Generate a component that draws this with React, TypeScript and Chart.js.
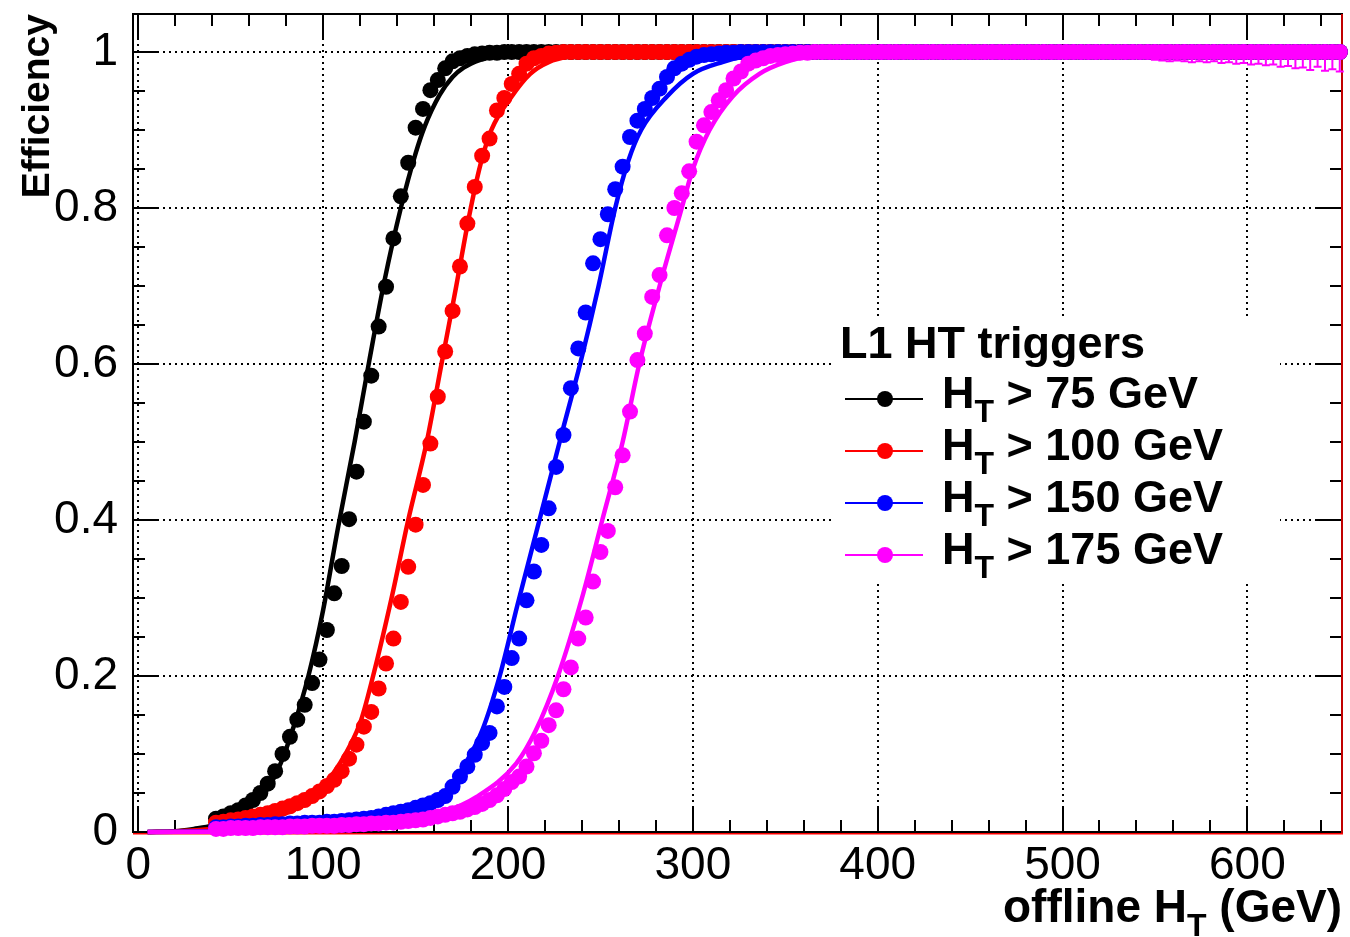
import React, { useEffect, useRef } from "react";
import { Chart, registerables } from "chart.js";

Chart.register(...registerables);

const FONT = "'Liberation Sans', Arial, Helvetica, sans-serif";

// ---- categories: offline HT bin centres (GeV) ----
const HT_BINS = [
  42, 46, 50, 54, 58, 62, 66, 70, 74, 78,
  82, 86, 90, 94, 98, 102, 106, 110, 114, 118,
  122, 126, 130, 134, 138, 142, 146, 150, 154, 158,
  162, 166, 170, 174, 178, 182, 186, 190, 194, 198,
  202, 206, 210, 214, 218, 222, 226, 230, 234, 238,
  242, 246, 250, 254, 258, 262, 266, 270, 274, 278,
  282, 286, 290, 294, 298, 302, 306, 310, 314, 318,
  322, 326, 330, 334, 338, 342, 346, 350, 354, 358,
  362, 366, 370, 374, 378, 382, 386, 390, 394, 398,
  402, 406, 410, 414, 418, 422, 426, 430, 434, 438,
  442, 446, 450, 454, 458, 462, 466, 470, 474, 478,
  482, 486, 490, 494, 498, 502, 506, 510, 514, 518,
  522, 526, 530, 534, 538, 542, 546, 550, 554, 558,
  562, 566, 570, 574, 578, 582, 586, 590, 594, 598,
  602, 606, 610, 614, 618, 622, 626, 630, 634, 638,
  642, 646, 650,
];

// ---- measured efficiencies ----
const EFF_HT75 = [
  0.017, 0.020, 0.024, 0.028, 0.034, 0.041, 0.050, 0.062, 0.078, 0.100,
  0.122, 0.144, 0.163, 0.191, 0.221, 0.259, 0.306, 0.341, 0.401, 0.462,
  0.526, 0.585, 0.648, 0.699, 0.761, 0.815, 0.858, 0.903, 0.927, 0.951,
  0.964, 0.979, 0.988, 0.992, 0.995, 0.997, 0.998, 0.999, 0.999, 1,
  1, 1, 1, 1, 1, 1, 1, 1, 1, 1,
  1, 1, 1, 1, 1, 1, 1, 1, 1, 1,
  1, 1, 1, 1, 1, 1, 1, 1, 1, 1,
  1, 1, 1, 1, 1, 1, 1, 1, 1, 1,
  1, 1, 1, 1, 1, 1, 1, 1, 1, 1,
  1, 1, 1, 1, 1, 1, 1, 1, 1, 1,
  1, 1, 1, 1, 1, 1, 1, 1, 1, 1,
  1, 1, 1, 1, 1, 1, 1, 1, 1, 1,
  1, 1, 1, 1, 1, 1, 1, 1, 1, 1,
  1, 1, 1, 1, 1, 1, 1, 1, 1, 1,
  1, 1, 1, 1, 1, 1, 1, 1, 1, 1,
  1, 1, 1,
];

const EFF_HT100 = [
  0.012, 0.013, 0.015, 0.016, 0.018, 0.020, 0.022, 0.024, 0.027, 0.030,
  0.033, 0.037, 0.041, 0.046, 0.052, 0.059, 0.067, 0.078, 0.094, 0.112,
  0.135, 0.154, 0.184, 0.216, 0.248, 0.295, 0.340, 0.394, 0.445, 0.498,
  0.558, 0.616, 0.668, 0.725, 0.780, 0.827, 0.867, 0.889, 0.925, 0.941,
  0.959, 0.972, 0.985, 0.992, 0.995, 0.998, 0.999, 1, 1, 1,
  1, 1, 1, 1, 1, 1, 1, 1, 1, 1,
  1, 1, 1, 1, 1, 1, 1, 1, 1, 1,
  1, 1, 1, 1, 1, 1, 1, 1, 1, 1,
  1, 1, 1, 1, 1, 1, 1, 1, 1, 1,
  1, 1, 1, 1, 1, 1, 1, 1, 1, 1,
  1, 1, 1, 1, 1, 1, 1, 1, 1, 1,
  1, 1, 1, 1, 1, 1, 1, 1, 1, 1,
  1, 1, 1, 1, 1, 1, 1, 1, 1, 1,
  1, 1, 1, 1, 1, 1, 1, 1, 1, 1,
  1, 1, 1, 1, 1, 1, 1, 1, 1, 1,
  1, 1, 1,
];

const EFF_HT150 = [
  0.006, 0.006, 0.007, 0.007, 0.008, 0.008, 0.009, 0.009, 0.010, 0.010,
  0.011, 0.011, 0.012, 0.012, 0.012, 0.013, 0.013, 0.014, 0.015, 0.016,
  0.017, 0.018, 0.020, 0.022, 0.024, 0.026, 0.028, 0.031, 0.034, 0.037,
  0.041, 0.046, 0.058, 0.071, 0.084, 0.099, 0.114, 0.127, 0.161, 0.186,
  0.223, 0.248, 0.297, 0.334, 0.368, 0.415, 0.468, 0.509, 0.569, 0.620,
  0.666, 0.729, 0.760, 0.792, 0.824, 0.853, 0.891, 0.912, 0.927, 0.941,
  0.953, 0.968, 0.979, 0.985, 0.990, 0.994, 0.996, 0.997, 0.998, 0.999,
  0.999, 1, 1, 1, 1, 1, 1, 1, 1, 1,
  1, 1, 1, 1, 1, 1, 1, 1, 1, 1,
  1, 1, 1, 1, 1, 1, 1, 1, 1, 1,
  1, 1, 1, 1, 1, 1, 1, 1, 1, 1,
  1, 1, 1, 1, 1, 1, 1, 1, 1, 1,
  1, 1, 1, 1, 1, 1, 1, 1, 1, 1,
  1, 1, 1, 1, 1, 1, 1, 1, 1, 1,
  1, 1, 1, 1, 1, 1, 1, 1, 1, 1,
  1, 1, 1,
];

const EFF_HT175 = [
  0.004, 0.004, 0.005, 0.005, 0.005, 0.005, 0.006, 0.006, 0.006, 0.006,
  0.007, 0.007, 0.007, 0.008, 0.008, 0.008, 0.008, 0.009, 0.009, 0.010,
  0.010, 0.011, 0.011, 0.012, 0.012, 0.013, 0.014, 0.015, 0.016, 0.018,
  0.020, 0.022, 0.024, 0.026, 0.029, 0.032, 0.036, 0.041, 0.047, 0.055,
  0.064, 0.071, 0.084, 0.101, 0.117, 0.137, 0.156, 0.183, 0.211, 0.248,
  0.275, 0.321, 0.359, 0.386, 0.442, 0.483, 0.539, 0.605, 0.639, 0.686,
  0.714, 0.765, 0.800, 0.819, 0.847, 0.885, 0.906, 0.923, 0.938, 0.951,
  0.966, 0.975, 0.985, 0.989, 0.992, 0.995, 0.996, 0.997, 0.998, 0.999,
  0.999, 1, 1, 1, 1, 1, 1, 1, 1, 1,
  1, 1, 1, 1, 1, 1, 1, 1, 1, 1,
  1, 1, 1, 1, 1, 1, 1, 1, 1, 1,
  1, 1, 1, 1, 1, 1, 1, 1, 1, 1,
  1, 1, 1, 1, 1, 1, 1, 1, 1, 1,
  1, 1, 1, 1, 1, 1, 1, 1, 1, 1,
  1, 1, 1, 1, 1, 1, 1, 1, 1, 1,
  1, 1, 1,
];

// lower error bars visible on the HT>175 series at high HT
const ERR_HT175_BINS = [
  550, 554, 558, 562, 566, 570, 574, 578, 582, 586, 590, 594, 598,
  602, 606, 610, 614, 618, 622, 626, 630, 634, 638, 642, 646, 650,
];
const ERR_HT175_LOW = [
  0.010, 0.011, 0.012, 0.011, 0.012, 0.013, 0.012, 0.013, 0.012, 0.014, 0.013, 0.015, 0.014,
  0.016, 0.015, 0.017, 0.016, 0.019, 0.018, 0.021, 0.020, 0.023, 0.019, 0.024, 0.022, 0.025,
];

// ---- fitted turn-on curves ----
const FIT75_X = [5, 20, 30, 40, 50, 60, 70, 77, 84, 92, 100, 108, 117, 125, 133, 142, 150, 155, 163, 170, 176, 185, 195, 210, 230, 650];
const FIT75_Y = [0, 0.001, 0.004, 0.008, 0.016, 0.031, 0.056, 0.088, 0.135, 0.2, 0.285, 0.39, 0.5, 0.605, 0.705, 0.8, 0.87, 0.905, 0.945, 0.968, 0.98, 0.99, 0.996, 0.999, 1, 1];
const FIT100_X = [5, 20, 40, 60, 73, 93, 109, 120, 127, 137, 146, 156, 164, 172, 179, 185, 191, 202, 212, 222, 235, 250, 270, 650];
const FIT100_Y = [0, 0.001, 0.004, 0.01, 0.018, 0.042, 0.088, 0.14, 0.2, 0.3, 0.4, 0.5, 0.6, 0.7, 0.79, 0.855, 0.9, 0.943, 0.972, 0.987, 0.995, 0.999, 1, 1];
const FIT150_X = [5, 100, 130, 150, 165, 177, 186, 195.5, 205, 217, 229, 239, 249, 258, 265, 272, 286, 300, 316, 330, 350, 380, 650];
const FIT150_Y = [0, 0.004, 0.012, 0.026, 0.045, 0.088, 0.13, 0.2, 0.29, 0.4, 0.51, 0.6, 0.7, 0.8, 0.86, 0.9, 0.943, 0.972, 0.987, 0.995, 0.999, 1, 1];
const FIT175_X = [5, 100, 140, 163, 183, 204.5, 215, 227, 240, 251, 262, 271, 282, 294, 300, 309, 321.5, 336, 350, 365, 390, 650];
const FIT175_Y = [0, 0.002, 0.008, 0.023, 0.045, 0.088, 0.13, 0.2, 0.3, 0.4, 0.5, 0.6, 0.7, 0.8, 0.85, 0.9, 0.943, 0.972, 0.987, 0.995, 1, 1];

// ---- series meta ----
const SERIES_THRESHOLDS = ["75 GeV", "100 GeV", "150 GeV", "175 GeV"];
const SERIES_COLORS = ["#000000", "#ff0000", "#0000ff", "#ff00ff"];
const LEGEND_TITLE = "L1 HT triggers";

// ---- axes ----
const X_TICKS = [0, 100, 200, 300, 400, 500, 600];
const Y_TICKS = [0, 0.2, 0.4, 0.6, 0.8, 1];
const Y_TICK_LABELS = ["0", "0.2", "0.4", "0.6", "0.8", "1"];
const X_MIN = -2.9;
const X_MAX = 651.2;
const Y_MIN = 0;
const Y_MAX = 1.0487;

function drawParts(
  ctx: CanvasRenderingContext2D,
  parts: { t: string; size: number; dy: number }[],
  x: number,
  y: number,
  align: "left" | "right"
) {
  let total = 0;
  for (const p of parts) {
    ctx.font = `bold ${p.size}px ${FONT}`;
    total += ctx.measureText(p.t).width;
  }
  let cx = align === "left" ? x : x - total;
  ctx.textAlign = "left";
  ctx.textBaseline = "alphabetic";
  for (const p of parts) {
    ctx.font = `bold ${p.size}px ${FONT}`;
    ctx.fillText(p.t, cx, y + p.dy);
    cx += ctx.measureText(p.t).width;
  }
}

const rootStyle = {
  id: "rootStyle",
  beforeDatasetsDraw(chart: any) {
    const { ctx, chartArea: a, scales } = chart;
    const xs = scales.x;
    const ys = scales.y;
    ctx.save();
    // dotted grid
    ctx.strokeStyle = "#000";
    ctx.lineWidth = 2;
    ctx.setLineDash([2, 4]);
    for (const v of X_TICKS) {
      const px = Math.round(xs.getPixelForValue(v));
      ctx.beginPath();
      ctx.moveTo(px, a.top);
      ctx.lineTo(px, a.bottom);
      ctx.stroke();
    }
    for (const v of Y_TICKS) {
      if (v === 0) continue;
      const py = Math.round(ys.getPixelForValue(v));
      ctx.beginPath();
      ctx.moveTo(a.left, py);
      ctx.lineTo(a.right, py);
      ctx.stroke();
    }
    ctx.setLineDash([]);
    // tick marks (inside, all four sides)
    ctx.lineWidth = 2;
    for (let v = 0; v <= X_MAX; v += 20) {
      const major = v % 100 === 0;
      const len = major ? 25 : 12;
      const px = Math.round(xs.getPixelForValue(v));
      ctx.beginPath();
      ctx.moveTo(px, a.bottom);
      ctx.lineTo(px, a.bottom - len);
      ctx.moveTo(px, a.top);
      ctx.lineTo(px, a.top + len);
      ctx.stroke();
    }
    for (let i = 0; i * 0.05 <= Y_MAX; i++) {
      const v = i * 0.05;
      const major = i % 4 === 0;
      const len = major ? 25 : 12;
      const py = Math.round(ys.getPixelForValue(v));
      ctx.beginPath();
      ctx.moveTo(a.left, py);
      ctx.lineTo(a.left + len, py);
      ctx.moveTo(a.right, py);
      ctx.lineTo(a.right - len, py);
      ctx.stroke();
    }
    // frame
    ctx.lineWidth = 2;
    ctx.strokeStyle = "#000";
    ctx.strokeRect(a.left, a.top, a.right - a.left, a.bottom - a.top);
    ctx.strokeStyle = "#ff0000";
    ctx.lineWidth = 1.5;
    ctx.beginPath();
    ctx.moveTo(a.left, a.bottom + 1.8);
    ctx.lineTo(a.right + 1, a.bottom + 1.8);
    ctx.moveTo(a.right, a.top);
    ctx.lineTo(a.right, a.bottom + 1.8);
    ctx.stroke();
    ctx.restore();
  },
  afterDatasetsDraw(chart: any) {
    const { ctx, chartArea: a, scales } = chart;
    const xs = scales.x;
    const ys = scales.y;
    ctx.save();
    // error bars on the HT>175 points
    ctx.strokeStyle = SERIES_COLORS[3];
    ctx.lineWidth = 2;
    ERR_HT175_BINS.forEach((b, i) => {
      const idx = HT_BINS.indexOf(b);
      const val = idx >= 0 ? EFF_HT175[idx] : 1;
      const px = xs.getPixelForValue(b);
      const py = ys.getPixelForValue(val);
      const pl = ys.getPixelForValue(val - ERR_HT175_LOW[i]);
      ctx.beginPath();
      ctx.moveTo(px, py);
      ctx.lineTo(px, pl);
      ctx.moveTo(px - 4, pl);
      ctx.lineTo(px + 4, pl);
      ctx.stroke();
    });

    // legend
    ctx.fillStyle = "#fff";
    ctx.fillRect(832, 318, 448, 262);
    ctx.fillStyle = "#000";
    ctx.font = `bold 45px ${FONT}`;
    ctx.textAlign = "left";
    ctx.textBaseline = "alphabetic";
    ctx.fillText(LEGEND_TITLE, 840, 358);
    SERIES_THRESHOLDS.forEach((thr, i) => {
      const yc = 399 + 52 * i;
      const col = SERIES_COLORS[i];
      ctx.strokeStyle = col;
      ctx.lineWidth = 2;
      ctx.beginPath();
      ctx.moveTo(845, yc);
      ctx.lineTo(923, yc);
      ctx.stroke();
      ctx.fillStyle = col;
      ctx.beginPath();
      ctx.arc(885, yc, 8, 0, Math.PI * 2);
      ctx.fill();
      ctx.fillStyle = "#000";
      drawParts(
        ctx,
        [
          { t: "H", size: 45, dy: 0 },
          { t: "T", size: 32, dy: 14 },
          { t: " > " + thr, size: 45, dy: 0 },
        ],
        942,
        yc + 9,
        "left"
      );
    });

    // axis titles
    ctx.fillStyle = "#000";
    drawParts(
      ctx,
      [
        { t: "offline H", size: 46, dy: 0 },
        { t: "T", size: 32, dy: 14 },
        { t: " (GeV)", size: 46, dy: 0 },
      ],
      1342,
      922,
      "right"
    );
    ctx.save();
    ctx.translate(49, a.top);
    ctx.rotate(-Math.PI / 2);
    ctx.font = `bold 39px ${FONT}`;
    ctx.textAlign = "right";
    ctx.textBaseline = "alphabetic";
    ctx.fillText("Efficiency", 0, 0);
    ctx.restore();
    ctx.restore();
  },
};

function pointsDataset(vals: number[], color: string, order: number) {
  return {
    type: "line" as const,
    data: HT_BINS.map((x, i) => ({ x, y: vals[i] })).filter((p) => p.y !== undefined),
    showLine: false,
    pointRadius: 8,
    pointHoverRadius: 8,
    pointBorderWidth: 0,
    pointBackgroundColor: color,
    borderColor: color,
    backgroundColor: color,
    clip: false as any,
    order,
  };
}

function fitDataset(xv: number[], yv: number[], color: string, order: number) {
  return {
    type: "line" as const,
    data: xv.map((x, i) => ({ x, y: yv[i] })),
    borderColor: color,
    borderWidth: 4.5,
    pointRadius: 0,
    fill: false,
    cubicInterpolationMode: "monotone" as const,
    clip: false as any,
    order,
  };
}

export default function App() {
  const ref = useRef<HTMLCanvasElement | null>(null);
  useEffect(() => {
    if (!ref.current) return;
    const chart = new Chart(ref.current, {
      type: "line",
      data: {
        datasets: [
          pointsDataset(EFF_HT75, SERIES_COLORS[0], 8),
          fitDataset(FIT75_X, FIT75_Y, SERIES_COLORS[0], 7),
          pointsDataset(EFF_HT100, SERIES_COLORS[1], 6),
          fitDataset(FIT100_X, FIT100_Y, SERIES_COLORS[1], 5),
          pointsDataset(EFF_HT150, SERIES_COLORS[2], 4),
          fitDataset(FIT150_X, FIT150_Y, SERIES_COLORS[2], 3),
          pointsDataset(EFF_HT175, SERIES_COLORS[3], 2),
          fitDataset(FIT175_X, FIT175_Y, SERIES_COLORS[3], 1),
        ] as any,
      },
      options: {
        responsive: false,
        animation: false,
        devicePixelRatio: 1,
        events: [],
        layout: { padding: { left: 0, top: 14, right: 7, bottom: 0 } },
        plugins: { legend: { display: false }, tooltip: { enabled: false } },
        scales: {
          x: {
            type: "linear",
            min: X_MIN,
            max: X_MAX,
            grid: { display: false, drawTicks: false },
            border: { display: false },
            ticks: {
              color: "#000",
              font: { family: FONT, size: 46 },
              padding: 7,
              maxRotation: 0,
              autoSkip: false,
              callback: (v: any) => String(v),
            },
            afterBuildTicks: (s: any) => {
              s.ticks = X_TICKS.map((v) => ({ value: v }));
            },
            afterFit: (s: any) => {
              s.height = 105;
              s.paddingLeft = 0;
              s.paddingRight = 0;
            },
          },
          y: {
            type: "linear",
            min: Y_MIN,
            max: Y_MAX,
            grid: { display: false, drawTicks: false },
            border: { display: false },
            ticks: {
              color: "#000",
              font: { family: FONT, size: 46 },
              padding: 15,
              autoSkip: false,
              callback: (_v: any, i: number) => Y_TICK_LABELS[i],
            },
            afterBuildTicks: (s: any) => {
              s.ticks = Y_TICKS.map((v) => ({ value: v }));
            },
            afterFit: (s: any) => {
              s.width = 133;
              s.paddingTop = 0;
              s.paddingBottom = 0;
            },
          },
        },
      } as any,
      plugins: [rootStyle],
    });
    return () => chart.destroy();
  }, []);
  return (
    <div style={{ position: "absolute", left: 0, top: 0, width: 1350, height: 937, background: "#fff" }}>
      <canvas ref={ref} width={1350} height={937} style={{ display: "block", width: 1350, height: 937 }} />
    </div>
  );
}
